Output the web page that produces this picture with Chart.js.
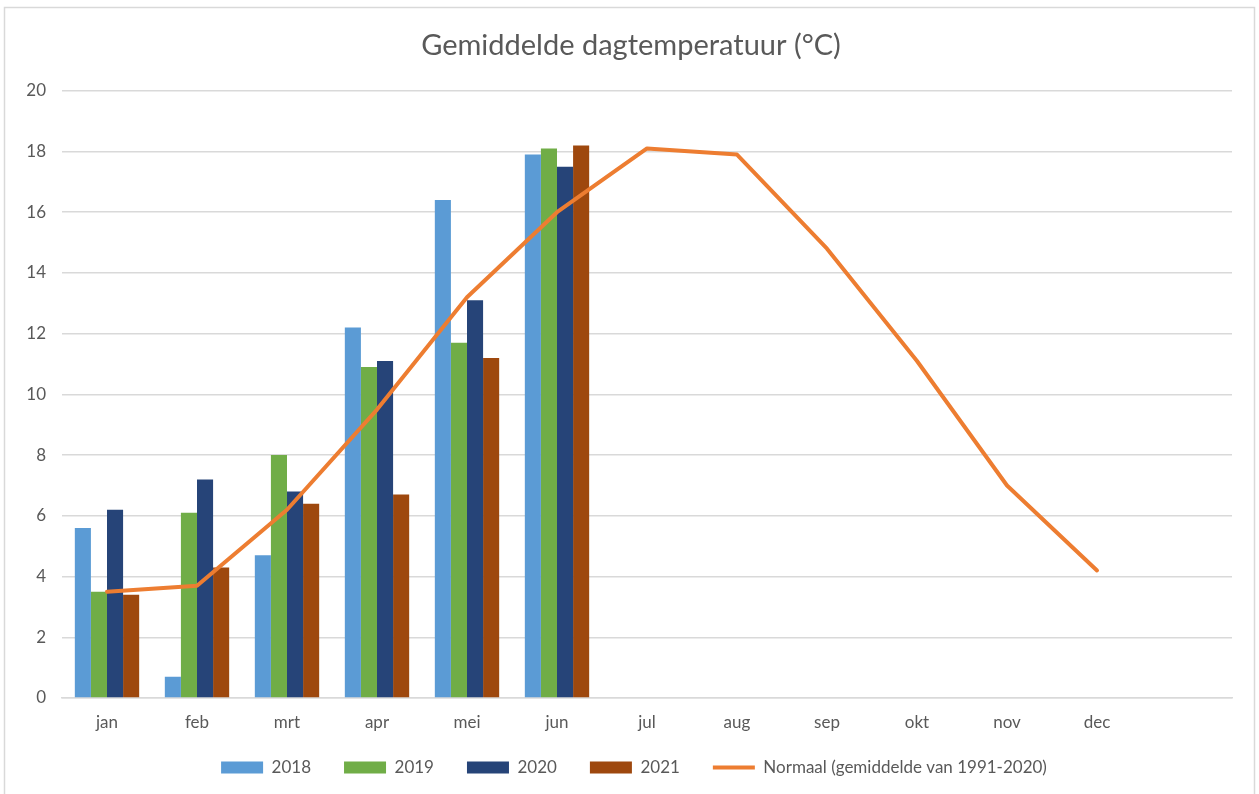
<!DOCTYPE html>
<html>
<head>
<meta charset="utf-8">
<script src="https://cdn.jsdelivr.net/npm/chart.js@4/dist/chart.umd.min.js"></script>
<style>
  html, body { margin: 0; padding: 0; background: #fff; }
  #wrap { position: relative; width: 1259px; height: 794px; }
</style>
</head>
<body>
<div id="wrap"><canvas id="c" width="1259" height="794"></canvas></div>
<script>
const months = ['jan','feb','mrt','apr','mei','jun','jul','aug','sep','okt','nov','dec',''];
const y2018 = [5.6, 0.7, 4.7, 12.2, 16.4, 17.9];
const y2019 = [3.5, 6.1, 8.0, 10.9, 11.7, 18.1];
const y2020 = [6.2, 7.2, 6.8, 11.1, 13.1, 17.5];
const y2021 = [3.4, 4.3, 6.4, 6.7, 11.2, 18.2];
const normaal = [3.5, 3.7, 6.2, 9.5, 13.2, 16.0, 18.1, 17.9, 14.8, 11.1, 7.0, 4.2];
const yTicks = [0, 2, 4, 6, 8, 10, 12, 14, 16, 18, 20];

const FONT = "Lato, 'Open Sans', sans-serif";
const GREY = '#595959';

const borderPlugin = {
  id: 'outerBorder',
  beforeDraw(chart) {
    const ctx = chart.ctx;
    ctx.save();
    ctx.fillStyle = '#ffffff';
    ctx.fillRect(0, 0, chart.width, chart.height);
    ctx.strokeStyle = '#d9d9d9';
    ctx.lineWidth = 1.5;
    ctx.strokeRect(4.5, 7.5, 1250, 800);
    ctx.restore();
  },
  afterLayout(chart) {
    if (chart.legend) {
      chart.legend.left += 18; chart.legend.right += 18;
      chart.legend.top -= 8; chart.legend.bottom -= 8;
    }
    if (chart.titleBlock) {
      chart.titleBlock.left += 15; chart.titleBlock.right += 15;
    }
  }
};

new Chart(document.getElementById('c'), {
  data: {
    labels: months,
    datasets: [
      { type: 'bar', label: '2018', data: y2018, backgroundColor: '#5B9BD5', order: 1 },
      { type: 'bar', label: '2019', data: y2019, backgroundColor: '#70AD47', order: 1 },
      { type: 'bar', label: '2020', data: y2020, backgroundColor: '#264478', order: 1 },
      { type: 'bar', label: '2021', data: y2021, backgroundColor: '#9E480E', order: 1 },
      { type: 'line', label: 'Normaal (gemiddelde van 1991-2020)', data: normaal,
        borderColor: '#ED7D31', backgroundColor: '#ED7D31', borderWidth: 4,
        pointRadius: 0, tension: 0, borderCapStyle: 'round', borderJoinStyle: 'round', order: 0 }
    ]
  },
  options: {
    responsive: false,
    animation: false,
    layout: { padding: { left: 0, right: 27, top: 0, bottom: 0 } },
    datasets: { bar: { categoryPercentage: 0.715, barPercentage: 1.0 } },
    plugins: {
      title: {
        display: true,
        text: 'Gemiddelde dagtemperatuur (°C)',
        color: GREY,
        font: { family: FONT, size: 29, weight: 'normal' },
        padding: { top: 28, bottom: 28 }
      },
      legend: {
        position: 'bottom',
        labels: {
          color: GREY,
          font: { family: FONT, size: 17 },
          usePointStyle: true,
          pointStyleWidth: 42,
          boxHeight: 12,
          padding: 33,
          sort: (a, b) => a.datasetIndex - b.datasetIndex,
          generateLabels(chart) {
            const items = Chart.defaults.plugins.legend.labels.generateLabels(chart);
            items.forEach(it => {
              const ds = chart.data.datasets[it.datasetIndex];
              if (ds.type === 'line') { it.pointStyle = 'line'; it.lineWidth = 4; it.strokeStyle = '#ED7D31'; }
              else { it.pointStyle = 'rect'; it.lineWidth = 0; }
            });
            return items;
          }
        }
      },
      tooltip: { enabled: false }
    },
    scales: {
      x: {
        grid: { display: false, drawTicks: false },
        border: { display: true, color: '#d9d9d9', width: 1.5 },
        ticks: { color: GREY, font: { family: FONT, size: 17 }, padding: 14, maxRotation: 0, autoSkip: false },
        afterFit(s) { s.height = 36; }
      },
      y: {
        min: 0, max: 20,
        afterBuildTicks(s) { s.ticks = yTicks.map(v => ({ value: v })); },
        grid: { color: '#d9d9d9', lineWidth: 1.5, drawTicks: false },
        border: { display: false },
        ticks: { color: GREY, font: { family: FONT, size: 17 }, padding: 16 },
        afterFit(s) { s.width = 62; }
      }
    }
  },
  plugins: [borderPlugin]
});
</script>
</body>
</html>
